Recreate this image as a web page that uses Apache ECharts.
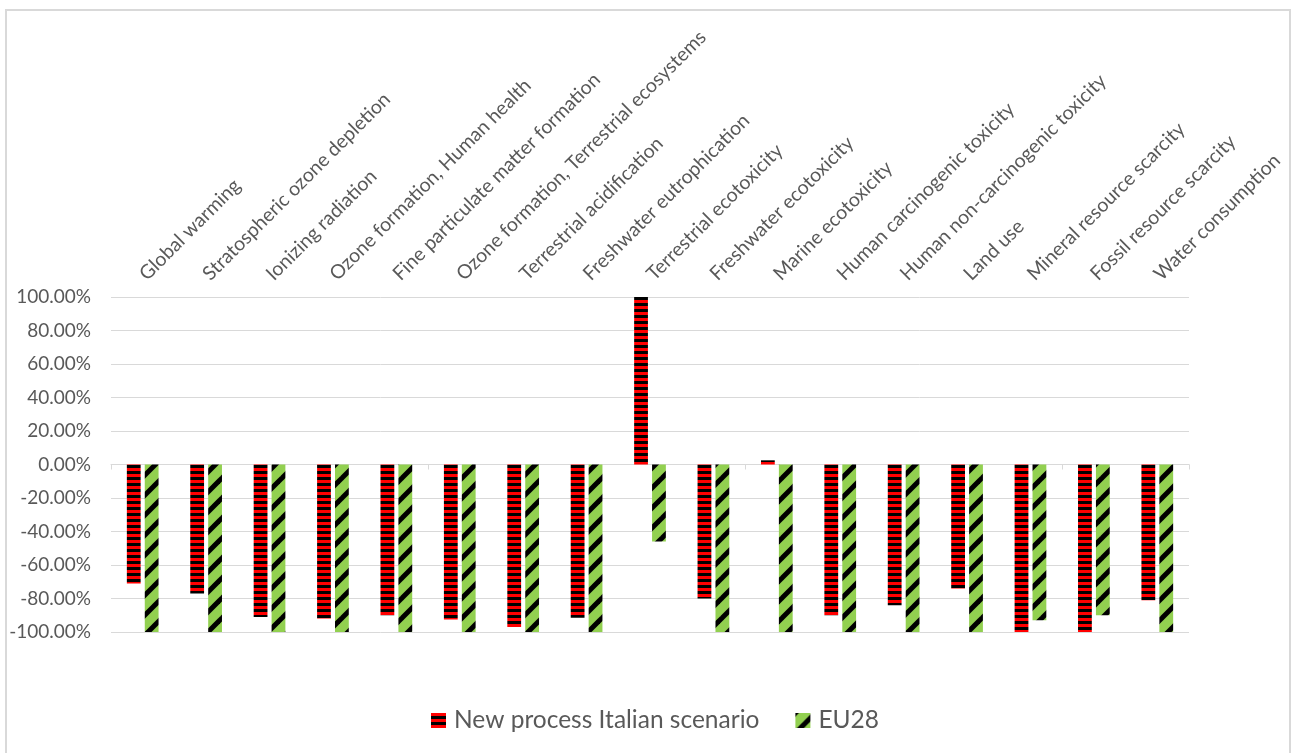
<!DOCTYPE html>
<html>
<head>
<meta charset="utf-8">
<script src="https://cdn.jsdelivr.net/npm/echarts@6/dist/echarts.min.js"></script>
<style>
html,body{margin:0;padding:0;background:#fff;}
#main{width:1292px;height:753px;}
</style>
</head>
<body>
<div id="main"></div>
<script>
const categories = [
  "Global warming",
  "Stratospheric ozone depletion",
  "Ionizing radiation",
  "Ozone formation, Human health",
  "Fine particulate matter formation",
  "Ozone formation, Terrestrial ecosystems",
  "Terrestrial acidification",
  "Freshwater eutrophication",
  "Terrestrial ecotoxicity",
  "Freshwater ecotoxicity",
  "Marine ecotoxicity",
  "Human carcinogenic toxicity",
  "Human non-carcinogenic toxicity",
  "Land use",
  "Mineral resource scarcity",
  "Fossil resource scarcity",
  "Water consumption"
];
const seriesNames = ["New process Italian scenario", "EU28"];
const italianValues = [-71, -77, -91, -92, -90, -92.5, -97, -91.5, 100, -80, 2.5, -90, -84, -74, -100, -100, -81];
const eu28Values = [-100, -100, -100, -100, -100, -100, -100, -100, -46, -100, -100, -100, -100, -100, -93, -90, -100];
const yMin = -100, yMax = 100, yInterval = 20;

function redPattern() {
  const c = document.createElement('canvas');
  c.width = 6; c.height = 6;
  const g = c.getContext('2d');
  g.fillStyle = '#ff0000'; g.fillRect(0, 0, 6, 3);
  g.fillStyle = '#000000'; g.fillRect(0, 3, 6, 3);
  return c;
}
function greenPattern() {
  const n = 20;
  const c = document.createElement('canvas');
  c.width = n; c.height = n;
  const g = c.getContext('2d');
  g.fillStyle = '#92d050'; g.fillRect(0, 0, n, n);
  g.strokeStyle = '#000000'; g.lineWidth = 5;
  [0, n, 2 * n].forEach(k => {
    g.beginPath();
    g.moveTo(-10, k + 10);
    g.lineTo(k + 10, -10);
    g.stroke();
  });
  return c;
}

const font = 'Lato, "Open Sans", sans-serif';
const chart = echarts.init(document.getElementById('main'), null, {renderer: 'canvas'});
chart.setOption({
  backgroundColor: '#ffffff',
  animation: false,
  textStyle: {fontFamily: font, color: '#595959'},
  graphic: [{
    type: 'rect', shape: {x: 6, y: 10, width: 1284, height: 760},
    style: {fill: 'none', stroke: '#d9d9d9', lineWidth: 2}, silent: true, z: -1
  }],
  grid: {left: 111, right: 103, top: 297, bottom: 121, containLabel: false},
  legend: {
    bottom: 15, left: 426,
    itemWidth: 15, itemHeight: 15, itemGap: 36,
    icon: 'rect',
    textStyle: {fontFamily: font, fontSize: 24.5, color: '#595959', padding: [0, 0, 0, 3]},
    data: seriesNames
  },
  xAxis: [{
    type: 'category', data: categories, position: 'bottom',
    axisLine: {onZero: true, lineStyle: {color: '#d9d9d9', width: 1}},
    axisTick: {show: true, length: 5, lineStyle: {color: '#d9d9d9'}},
    axisLabel: {show: false}, splitLine: {show: false}
  }, {
    type: 'category', data: categories, position: 'top',
    axisLine: {show: false}, axisTick: {show: false},
    axisLabel: {rotate: -45, margin: 20, fontSize: 19.5, color: '#595959', fontFamily: font, interval: 0}
  }],
  yAxis: {
    type: 'value', min: yMin, max: yMax, interval: yInterval,
    axisLine: {show: false}, axisTick: {show: false},
    splitLine: {lineStyle: {color: '#d9d9d9', width: 1}},
    axisLabel: {margin: 20, fontSize: 19, color: '#595959', fontFamily: font,
      formatter: v => v.toFixed(2) + '%'}
  },
  series: [{
    name: seriesNames[0], type: 'bar', xAxisIndex: 0, data: italianValues,
    barGap: '30%', barCategoryGap: '50%',
    itemStyle: {color: {image: redPattern(), repeat: 'repeat'}}
  }, {
    name: seriesNames[1], type: 'bar', xAxisIndex: 0, data: eu28Values,
    barGap: '30%', barCategoryGap: '50%',
    itemStyle: {color: {image: greenPattern(), repeat: 'repeat'}}
  }]
});
</script>
</body>
</html>
